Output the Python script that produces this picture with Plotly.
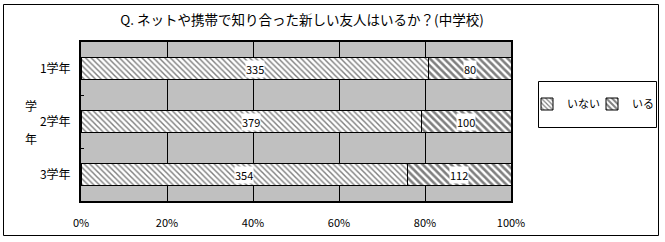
import plotly.graph_objects as go

# Survey: new friends met through the internet or mobile phones (junior high)
grades = ["1学年", "2学年", "3学年"]
no_friend = [335, 379, 354]     # いない
has_friend = [80, 100, 112]     # いる
series_names = ["いない", "いる"]
x_ticks = [0, 20, 40, 60, 80, 100]
x_tick_labels = ["0%", "20%", "40%", "60%", "80%", "100%"]
title_text = "Q. ネットや携帯で知り合った新しい友人はいるか？(中学校)"

FONT = "Noto Sans CJK JP"
W, H = 665, 242
L, R, T, B = 81, 154, 42, 41
PW, PH = W - L - R, H - T - B


def px_x(p):
    return (p - L) / PW


def px_y(p):
    return (H - B - p) / PH


fig = go.Figure()
fig.add_trace(go.Bar(
    y=grades, x=no_friend, name=series_names[0], orientation="h",
    marker=dict(color="white", line=dict(color="black", width=1),
                pattern=dict(shape="\\", size=4, solidity=0.36,
                             fgcolor="black", bgcolor="white")),
    width=0.41, hoverinfo="skip",
))
fig.add_trace(go.Bar(
    y=grades, x=has_friend, name=series_names[1], orientation="h",
    marker=dict(color="white", line=dict(color="black", width=1),
                pattern=dict(shape="\\", size=5, solidity=0.52,
                             fgcolor="black", bgcolor="white")),
    width=0.41, hoverinfo="skip",
))

# value labels centred in each segment (percent scale)
for g, a, b in zip(grades, no_friend, has_friend):
    tot = a + b
    pa = a / tot * 100
    for val, cx in ((a, pa / 2), (b, pa + (100 - pa) / 2)):
        fig.add_annotation(x=cx, y=g, text=str(val), showarrow=False,
                           bgcolor="white", borderpad=0,
                           font=dict(family=FONT, size=11, color="black"))

# y-axis title, stacked vertically
fig.add_annotation(xref="paper", yref="paper", x=px_x(23), y=px_y(105),
                   text="学", showarrow=False, font=dict(family=FONT, size=12, color="black"))
fig.add_annotation(xref="paper", yref="paper", x=px_x(23), y=px_y(138),
                   text="年", showarrow=False, font=dict(family=FONT, size=12, color="black"))

# outer frame
fig.add_shape(type="rect", xref="paper", yref="paper",
              x0=px_x(3.5), x1=px_x(658.5), y0=px_y(235.5), y1=px_y(4.5),
              line=dict(color="black", width=1), fillcolor="rgba(0,0,0,0)", layer="below")
# legend frame
fig.add_shape(type="rect", xref="paper", yref="paper",
              x0=px_x(538.5), x1=px_x(656.5), y0=px_y(127.5), y1=px_y(81.5),
              line=dict(color="black", width=1), fillcolor="white", layer="below")

fig.update_layout(
    width=W, height=H,
    margin=dict(l=L, r=R, t=T, b=B, autoexpand=False),
    barmode="stack", barnorm="percent",
    paper_bgcolor="white", plot_bgcolor="#c0c0c0",
    font=dict(family=FONT, size=12, color="black"),
    title=dict(text=title_text, x=302 / W, xanchor="center",
               y=1 - 20 / H, yanchor="middle", yref="container",
               font=dict(family=FONT, size=13.5, color="black")),
    showlegend=True,
    legend=dict(orientation="h", traceorder="normal",
                x=px_x(527), xanchor="left",
                y=px_y(104), yanchor="middle",
                borderwidth=0, bgcolor="rgba(0,0,0,0)",
                font=dict(family=FONT, size=11, color="black"),
                itemwidth=30, entrywidth=20, entrywidthmode="pixels"),
    xaxis=dict(range=[0, 100], tickvals=x_ticks, ticktext=x_tick_labels,
               showgrid=True, gridcolor="black", gridwidth=1,
               showline=True, linecolor="black", linewidth=2, mirror=True,
               ticks="", ticklabelstandoff=11, zeroline=False,
               tickfont=dict(family=FONT, size=11, color="black"), fixedrange=True),
    yaxis=dict(autorange="reversed", showgrid=False,
               showline=True, linecolor="black", linewidth=2, mirror=True,
               ticks="inside", tickson="boundaries", ticklen=3, tickwidth=1, tickcolor="black",
               ticklabelstandoff=6,
               tickfont=dict(family=FONT, size=12, color="black"), fixedrange=True),
)

fig.write_html("out.html")
